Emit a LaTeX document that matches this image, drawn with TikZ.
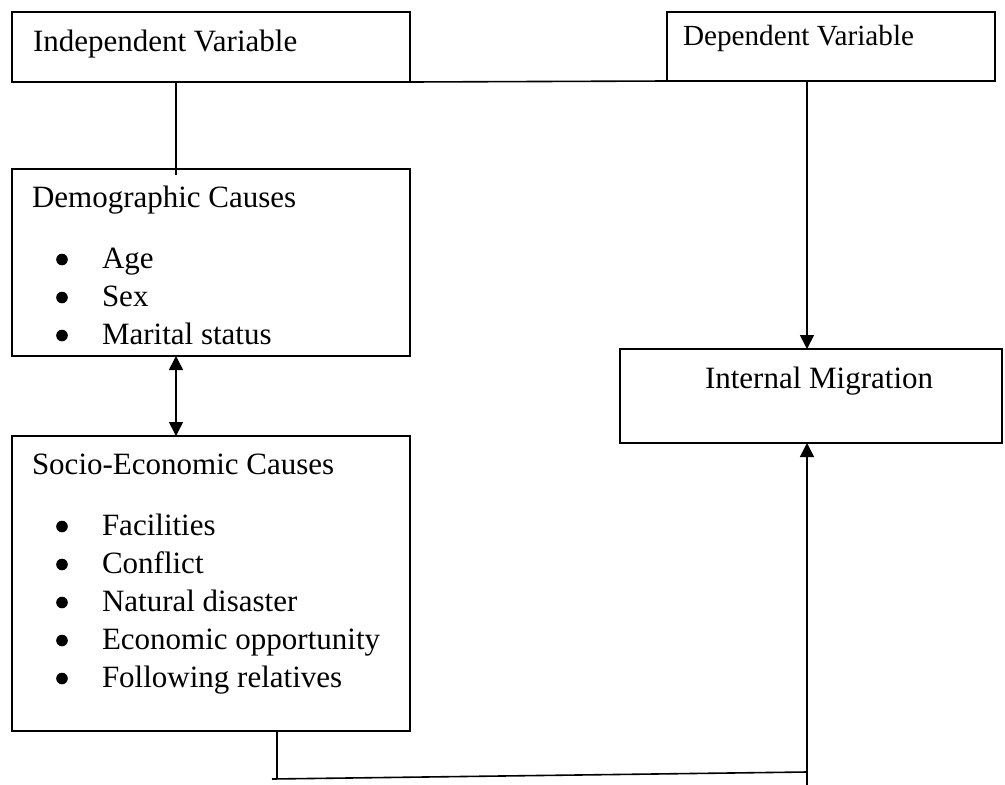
\documentclass[tikz,border=0pt]{standalone}
\usepackage{fontspec}
\setmainfont{Liberation Serif}
\usetikzlibrary{arrows.meta}
\begin{document}
\begin{tikzpicture}[x=1pt,y=-1pt,
  box/.style={draw=black, line width=1.8pt, rectangle, inner sep=0pt, outer sep=0pt, fill=none},
  txt/.style={inner sep=0pt, outer sep=0pt, font=\fontsize{31}{38}\selectfont},
  smalltxt/.style={inner sep=0pt, outer sep=0pt, font=\fontsize{29.2}{34}\selectfont},
  conn/.style={draw=black, line width=1.6pt},
  tip/.style={-{Triangle[length=14pt,width=14pt]}},
  bullet/.style={fill=black}
]
\useasboundingbox (0,0) rectangle (1005,785);

% boxes
\node[box, minimum width=398pt, minimum height=70pt]  (indep)  at (211,47)    {};
\node[box, minimum width=328pt, minimum height=69pt]  (dep)    at (831,46.5)  {};
\node[box, minimum width=398pt, minimum height=187pt] (demo)   at (211,262.5) {};
\node[box, minimum width=398pt, minimum height=295pt] (socio)  at (211,583.5) {};
\node[box, minimum width=382pt, minimum height=94pt]  (intmig) at (811,396)   {};

% texts
\node[txt, anchor=base west] (indepT) at (33,51) {Independent Variable};
\node[smalltxt, anchor=base west] (depT) at (683,45) {Dependent Variable};
\node[txt, anchor=base west] (demoT) at (32,207) {Demographic Causes};
\node[txt, anchor=base west] (demoL) at (102,268) {\begin{tabular}[t]{@{}l@{}}
Age\\ Sex\\ Marital status\end{tabular}};
\node[txt, anchor=base west] (socioT) at (32,474) {Socio-Economic Causes};
\node[txt, anchor=base west] (socioL) at (102,535) {\begin{tabular}[t]{@{}l@{}}
Facilities\\ Conflict\\ Natural disaster\\ Economic opportunity\\ Following relatives\end{tabular}};
\node[txt, anchor=base west] (intmigT) at (705,388) {Internal Migration};

% bullets
\foreach \yy in {268,306,344,535,573,611,649,687}
  \fill[bullet] (62,{\yy-8.5}) circle (5.8pt);

% helper coordinates
\coordinate (c0) at (277,779);
\coordinate (c1) at (272,779);
\coordinate (c2) at (807,772);
\coordinate (c3) at (807,785);

% connectors
\draw[conn] (indep.south east) -- (dep.south west);
\draw[conn] ([xshift=-35pt]indep.south) -- ([xshift=-35pt,yshift=-6pt]demo.north);
\draw[conn, {Triangle[length=14pt,width=14pt]}-{Triangle[length=14pt,width=14pt]}] ([xshift=-35pt]demo.south) -- ([xshift=-35pt]socio.north);
\draw[conn, tip] ([xshift=-24pt]dep.south) -- ([xshift=-4pt]intmig.north);
\draw[conn] ([xshift=66pt]socio.south) -- (c0);
\draw[conn] (c1) -- (c2);
\draw[conn, tip] (c3) -- ([xshift=-4pt]intmig.south);
\end{tikzpicture}
\end{document}
